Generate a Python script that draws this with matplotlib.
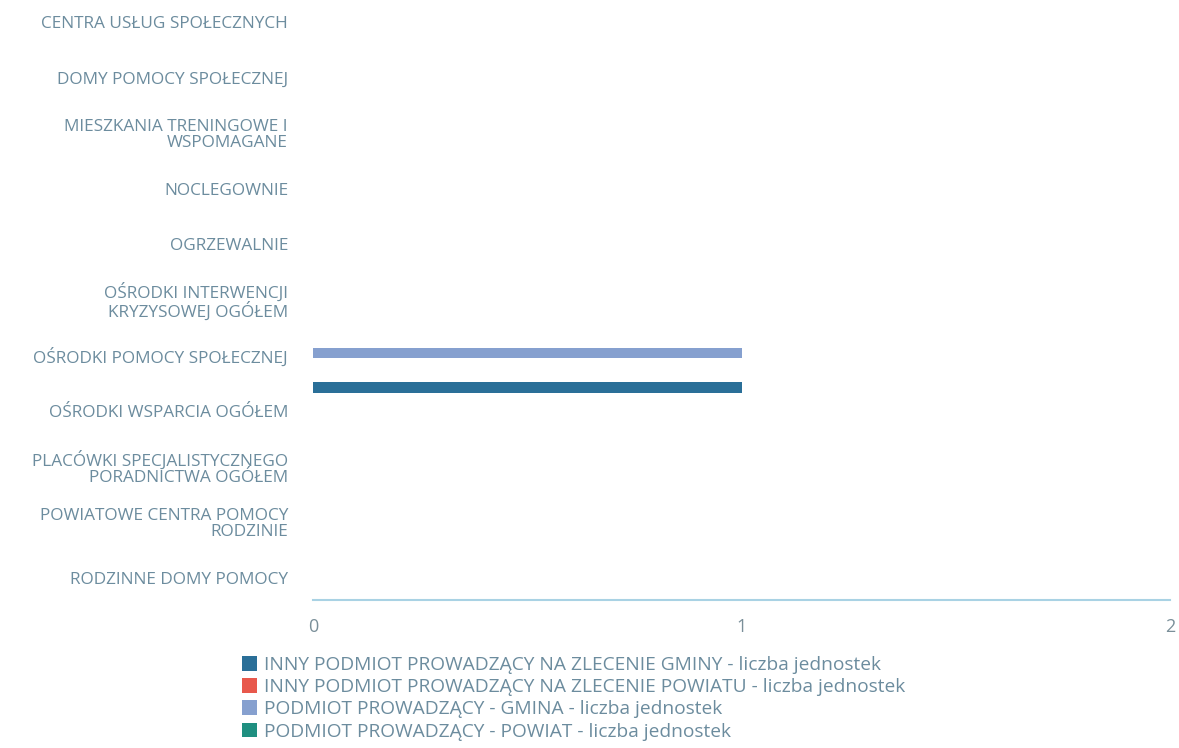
import numpy as np
import matplotlib.pyplot as plt
from matplotlib.patches import Patch

categories = [
    'CENTRA USŁUG SPOŁECZNYCH',
    'DOMY POMOCY SPOŁECZNEJ',
    'MIESZKANIA TRENINGOWE I\nWSPOMAGANE',
    'NOCLEGOWNIE',
    'OGRZEWALNIE',
    'OŚRODKI INTERWENCJI\nKRYZYSOWEJ OGÓŁEM',
    'OŚRODKI POMOCY SPOŁECZNEJ',
    'OŚRODKI WSPARCIA OGÓŁEM',
    'PLACÓWKI SPECJALISTYCZNEGO\nPORADNICTWA OGÓŁEM',
    'POWIATOWE CENTRA POMOCY\nRODZINIE',
    'RODZINNE DOMY POMOCY',
]

series_names = [
    'INNY PODMIOT PROWADZĄCY NA ZLECENIE GMINY - liczba jednostek',
    'INNY PODMIOT PROWADZĄCY NA ZLECENIE POWIATU - liczba jednostek',
    'PODMIOT PROWADZĄCY - GMINA - liczba jednostek',
    'PODMIOT PROWADZĄCY - POWIAT - liczba jednostek',
]
inny_gminy = [0, 0, 0, 0, 0, 0, 0, 1, 0, 0, 0]
inny_powiatu = [0, 0, 0, 0, 0, 0, 0, 0, 0, 0, 0]
gmina = [0, 0, 0, 0, 0, 0, 1, 0, 0, 0, 0]
powiat = [0, 0, 0, 0, 0, 0, 0, 0, 0, 0, 0]
series_values = [inny_gminy, inny_powiatu, gmina, powiat]
colors = ['#2a6f98', '#e8584c', '#86a0cf', '#1f8f80']

text_color = '#6c8c9e'
plt.rcParams['font.family'] = ['Open Sans', 'DejaVu Sans']

fig = plt.figure(figsize=(11.79, 7.48), dpi=100)
ax = fig.add_axes([313 / 1179, 148 / 748, 857 / 1179, 600 / 748])

y = np.arange(len(categories))
bar_h = 0.19
step = 0.19
base = -0.14
for i, (vals, c) in enumerate(zip(series_values, colors)):
    ax.barh(y + base + (i - 1.5) * step, vals, height=bar_h, color=c)

ax.set_xlim(0, 2)
ax.set_ylim(10.4, -0.4)
ax.set_xticks([0, 1, 2])
ax.set_yticks(y)
ax.set_yticklabels(categories, fontsize=12.4, color=text_color, ha='right',
                   linespacing=0.95)
ax.tick_params(axis='x', labelsize=13, colors='#7a8f99', length=0, pad=13)
ax.tick_params(axis='y', length=0, pad=18)
for side in ['top', 'right', 'left']:
    ax.spines[side].set_visible(False)
ax.spines['bottom'].set_color('#a9d2e4')
ax.spines['bottom'].set_linewidth(1.5)

handles = [Patch(facecolor=c, label=n) for c, n in zip(colors, series_names)]
fig.legend(handles=handles, loc='upper left', bbox_to_anchor=(242 / 1179, 1 - 656 / 748),
           frameon=False, fontsize=13.8, labelcolor=text_color,
           handlelength=0.8, handleheight=0.8, handletextpad=0.35,
           labelspacing=0.22, borderaxespad=0, borderpad=0)

fig.savefig('out.png', dpi=100)
